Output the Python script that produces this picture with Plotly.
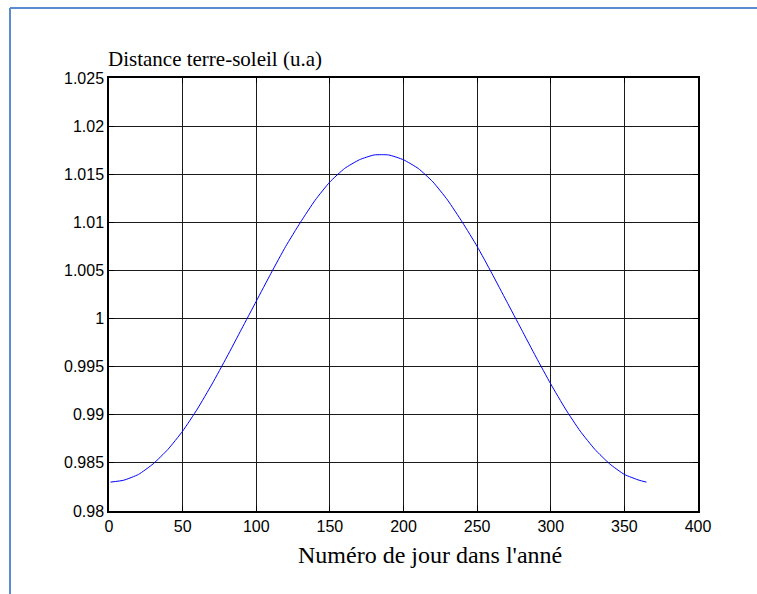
import plotly.graph_objects as go

# Data
days = [1, 10, 20, 30, 40, 50, 60, 70, 80, 90, 100, 110, 120, 130, 140, 150,
        160, 170, 180, 190, 200, 210, 220, 230, 240, 250, 260, 270, 280,
        290, 300, 310, 320, 330, 340, 350, 360, 365]
distance = [0.9830, 0.9832, 0.9838, 0.9849, 0.9864, 0.9883, 0.9906, 0.9932,
            0.9960, 0.9989, 1.0018, 1.0047, 1.0075, 1.0100, 1.0123, 1.0142,
            1.0156, 1.0165, 1.0170, 1.0170, 1.0165, 1.0156, 1.0142, 1.0123,
            1.0100, 1.0075, 1.0047, 1.0018, 0.9989, 0.9960, 0.9932, 0.9906,
            0.9883, 0.9864, 0.9849, 0.9838, 0.9832, 0.9830]

x_tickvals = [0, 50, 100, 150, 200, 250, 300, 350, 400]
x_ticktext = ["0", "50", "100", "150", "200", "250", "300", "350", "400"]
y_tickvals = [0.98, 0.985, 0.99, 0.995, 1.0, 1.005, 1.01, 1.015, 1.02, 1.025]
y_ticktext = ["0.98", "0.985", "0.99", "0.995", "1", "1.005", "1.01", "1.015",
              "1.02", "1.025"]

title_text = "Distance terre-soleil (u.a)"
xlabel_text = "Numéro de jour dans l'anné"

W, H = 757, 594
L, R, T, B = 109, 698, 78, 511

fig = go.Figure()
fig.add_trace(go.Scatter(x=days, y=distance, mode="lines",
                         line=dict(color="#0000ff", width=1, shape="spline", smoothing=0.5),
                         hoverinfo="skip"))

axis_common = dict(showgrid=True, gridcolor="#1a1a1a", gridwidth=1,
                   showline=True, linecolor="black", linewidth=1.5, mirror="ticks",
                   ticks="inside", ticklen=5, tickcolor="black",
                   tickfont=dict(family="Liberation Sans, Arial", size=16, color="black"),
                   zeroline=False)

fig.update_xaxes(range=[0, 400], tickvals=x_tickvals, ticktext=x_ticktext, **axis_common)
fig.update_yaxes(range=[0.98, 1.025], tickvals=y_tickvals, ticktext=y_ticktext, **axis_common)

def px_x(p):
    return (p - L) / (R - L)

def px_y(p):
    return (B - p) / (B - T)

fig.update_layout(
    width=W, height=H,
    margin=dict(l=L, r=W - R, t=T, b=H - B),
    plot_bgcolor="white", paper_bgcolor="white",
    showlegend=False,
    annotations=[
        dict(text=title_text, xref="paper", yref="paper", x=px_x(106), y=px_y(73),
             xanchor="left", yanchor="bottom", showarrow=False,
             font=dict(family="Liberation Serif, Times New Roman", size=21, color="black")),
        dict(text=xlabel_text, xref="paper", yref="paper", x=px_x(296), y=px_y(540),
             xanchor="left", yanchor="top", showarrow=False,
             font=dict(family="Liberation Serif, Times New Roman", size=24, color="black")),
    ],
    shapes=[
        dict(type="line", xref="paper", yref="paper", x0=px_x(10), y0=px_y(8),
             x1=px_x(760), y1=px_y(8), line=dict(color="#5b8bd0", width=2)),
        dict(type="line", xref="paper", yref="paper", x0=px_x(10), y0=px_y(8),
             x1=px_x(10), y1=px_y(600), line=dict(color="#5b8bd0", width=2)),
    ],
)

fig.write_html("out.html")
